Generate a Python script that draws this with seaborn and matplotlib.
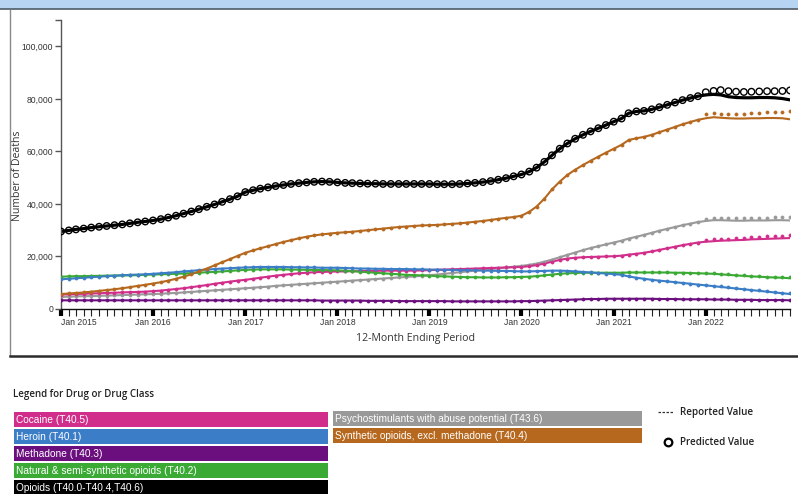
import matplotlib
matplotlib.use("Agg")
import matplotlib.pyplot as plt
import matplotlib.dates as mdates
from matplotlib.patches import Rectangle
from matplotlib.lines import Line2D
from matplotlib.ticker import StrMethodFormatter, FixedLocator
import pandas as pd
import seaborn as sns

# ---- data: 12-month ending counts, thousands of deaths, Jan 2015 .. Dec 2022 ----
periods = pd.date_range("2015-01-01", "2022-12-01", freq="MS")

cocaine_k = [
    5.5, 5.6, 5.7, 5.8, 5.9, 6.0, 6.1, 6.2, 6.3, 6.4, 6.5, 6.6,
    6.8, 7.0, 7.3, 7.6, 7.9, 8.3, 8.7, 9.1, 9.6, 10.0, 10.4, 10.8,
    11.1, 11.5, 11.9, 12.3, 12.7, 13.0, 13.3, 13.6, 13.8, 14.0, 14.1, 14.2,
    14.3, 14.3, 14.4, 14.4, 14.5, 14.5, 14.6, 14.6, 14.6, 14.6, 14.6, 14.7,
    14.8, 14.9, 15.0, 15.1, 15.2, 15.3, 15.4, 15.5, 15.6, 15.7, 15.8, 15.9,
    16.0, 16.3, 16.7, 17.3, 18.0, 18.7, 19.2, 19.5, 19.7, 19.8, 19.9, 20.0,
    20.1, 20.3, 20.7, 21.0, 21.4, 21.9, 22.5, 23.1, 23.7, 24.3, 24.8, 25.3,
    25.6, 25.8, 26.0, 26.1, 26.2, 26.3, 26.5, 26.6, 26.7, 26.8, 26.9, 27.0,
]
heroin_k = [
    11.3, 11.5, 11.7, 11.9, 12.1, 12.3, 12.5, 12.7, 12.8, 13.0, 13.1, 13.2,
    13.4, 13.6, 13.8, 14.0, 14.3, 14.5, 14.8, 15.0, 15.2, 15.4, 15.5, 15.7,
    15.8, 15.9, 16.0, 16.0, 16.0, 16.0, 15.9, 15.9, 15.8, 15.8, 15.7, 15.7,
    15.7, 15.6, 15.5, 15.4, 15.4, 15.3, 15.3, 15.2, 15.2, 15.2, 15.1, 15.1,
    15.0, 15.0, 14.9, 14.9, 14.8, 14.8, 14.7, 14.6, 14.6, 14.5, 14.5, 14.4,
    14.3, 14.3, 14.4, 14.5, 14.6, 14.6, 14.5, 14.3, 14.1, 13.9, 13.7, 13.5,
    13.3, 13.0, 12.4, 11.9, 11.5, 11.1, 10.8, 10.5, 10.2, 9.9, 9.6, 9.3,
    9.0, 8.7, 8.4, 8.1, 7.8, 7.5, 7.2, 6.9, 6.6, 6.3, 6.0, 5.7,
]
methadone_k = [
    3.3, 3.3, 3.3, 3.3, 3.3, 3.3, 3.3, 3.3, 3.3, 3.3, 3.3, 3.3,
    3.3, 3.3, 3.3, 3.3, 3.3, 3.3, 3.3, 3.3, 3.3, 3.3, 3.3, 3.3,
    3.3, 3.3, 3.3, 3.3, 3.3, 3.3, 3.3, 3.3, 3.3, 3.3, 3.2, 3.2,
    3.2, 3.2, 3.2, 3.2, 3.1, 3.1, 3.1, 3.1, 3.0, 3.0, 3.0, 3.0,
    3.0, 3.0, 3.0, 2.9, 2.9, 2.9, 2.9, 2.9, 2.9, 2.9, 2.9, 2.9,
    3.0, 3.0, 3.1, 3.2, 3.3, 3.4, 3.5, 3.6, 3.7, 3.8, 3.8, 3.9,
    3.9, 3.9, 3.9, 3.9, 3.9, 3.9, 3.8, 3.8, 3.8, 3.7, 3.7, 3.7,
    3.7, 3.6, 3.6, 3.6, 3.5, 3.5, 3.5, 3.4, 3.4, 3.4, 3.4, 3.3,
]
natural_k = [
    12.3, 12.4, 12.5, 12.5, 12.6, 12.6, 12.7, 12.7, 12.8, 12.8, 12.9, 13.0,
    13.1, 13.2, 13.3, 13.4, 13.5, 13.7, 13.8, 14.0, 14.1, 14.3, 14.5, 14.7,
    14.9, 15.0, 15.1, 15.1, 15.1, 15.1, 15.0, 15.0, 14.9, 14.9, 14.8, 14.8,
    14.7, 14.6, 14.4, 14.2, 14.0, 13.8, 13.6, 13.4, 13.2, 13.0, 12.9, 12.8,
    12.7, 12.5, 12.4, 12.3, 12.2, 12.1, 12.1, 12.0, 12.0, 12.0, 12.1, 12.1,
    12.2, 12.3, 12.5, 12.8, 13.1, 13.4, 13.6, 13.7, 13.8, 13.8, 13.8, 13.8,
    13.8, 13.8, 13.9, 13.9, 13.9, 13.9, 13.9, 13.9, 13.8, 13.8, 13.7, 13.6,
    13.5, 13.4, 13.2, 13.0, 12.8, 12.6, 12.4, 12.3, 12.1, 12.0, 11.9, 11.7,
]
opioids_k = [
    29.5, 29.9, 30.3, 30.6, 31.0, 31.3, 31.6, 31.9, 32.2, 32.6, 33.0, 33.3,
    33.7, 34.2, 34.8, 35.5, 36.3, 37.1, 38.0, 38.9, 39.8, 40.8, 41.8, 42.9,
    44.5, 45.2, 45.8, 46.3, 46.8, 47.2, 47.6, 47.9, 48.2, 48.4, 48.5, 48.4,
    48.2, 48.0, 47.9, 47.8, 47.7, 47.7, 47.6, 47.6, 47.6, 47.6, 47.6, 47.6,
    47.6, 47.5, 47.5, 47.5, 47.6, 47.8, 48.0, 48.3, 48.7, 49.2, 49.8, 50.5,
    51.2, 52.3, 53.8, 56.0, 58.5, 61.0, 63.0, 64.8, 66.3, 67.6, 68.8, 70.0,
    71.3, 72.5, 74.5, 75.2, 75.4, 76.0, 76.8, 77.7, 78.6, 79.5, 80.3, 81.0,
    81.5, 81.7, 81.5, 80.8, 80.5, 80.4, 80.4, 80.5, 80.5, 80.4, 80.1, 79.6,
]
psychostim_k = [
    4.6, 4.7, 4.8, 4.9, 4.9, 5.0, 5.1, 5.2, 5.3, 5.4, 5.5, 5.6,
    5.7, 5.8, 6.0, 6.1, 6.3, 6.5, 6.7, 6.9, 7.1, 7.3, 7.5, 7.7,
    7.9, 8.1, 8.3, 8.5, 8.8, 9.0, 9.2, 9.4, 9.6, 9.8, 10.0, 10.2,
    10.4, 10.6, 10.8, 11.0, 11.2, 11.4, 11.6, 11.8, 12.0, 12.2, 12.4, 12.6,
    12.9, 13.1, 13.4, 13.7, 14.0, 14.3, 14.6, 14.9, 15.2, 15.5, 15.8, 16.1,
    16.4, 16.8, 17.3, 18.0, 18.8, 19.7, 20.6, 21.5, 22.4, 23.2, 23.9, 24.6,
    25.3, 26.0, 26.8, 27.5, 28.2, 29.0, 29.8, 30.5, 31.2, 31.9, 32.5, 33.1,
    33.5, 33.8, 33.8, 33.7, 33.6, 33.6, 33.7, 33.7, 33.7, 33.8, 33.8, 33.7,
]
synthetic_k = [
    5.7, 5.9, 6.1, 6.3, 6.6, 6.9, 7.2, 7.5, 7.9, 8.3, 8.8, 9.2,
    9.7, 10.2, 10.8, 11.5, 12.3, 13.2, 14.3, 15.4, 16.6, 17.8, 19.0, 20.2,
    21.4, 22.3, 23.1, 23.9, 24.7, 25.5, 26.2, 26.9, 27.5, 28.0, 28.4, 28.7,
    29.0, 29.2, 29.4, 29.7, 30.0, 30.3, 30.6, 30.9, 31.2, 31.4, 31.6, 31.8,
    31.9, 32.0, 32.2, 32.4, 32.6, 32.9, 33.2, 33.5, 33.9, 34.3, 34.7, 35.0,
    35.5, 37.0, 39.0, 42.0, 45.5, 48.5, 51.0, 53.0, 54.8, 56.4, 58.0, 59.5,
    61.0, 62.5, 64.3, 65.0, 65.5, 66.3, 67.3, 68.3, 69.3, 70.3, 71.2, 72.0,
    72.6, 73.0, 72.8, 72.6, 72.5, 72.5, 72.6, 72.6, 72.7, 72.7, 72.6, 72.2,
]

# predicted values for 2022 (earlier months: predicted equals reported)
cocaine_pred_2022 = [26.2, 26.5, 26.7, 26.8, 27.0, 27.1, 27.3, 27.4, 27.6, 27.7, 27.9, 28.2]
heroin_pred_2022 = [9.2, 8.9, 8.6, 8.3, 8.0, 7.7, 7.4, 7.1, 6.8, 6.5, 6.2, 5.9]
methadone_pred_2022 = [3.8, 3.7, 3.7, 3.7, 3.6, 3.6, 3.6, 3.5, 3.5, 3.5, 3.5, 3.4]
natural_pred_2022 = [13.7, 13.6, 13.4, 13.2, 13.0, 12.8, 12.6, 12.5, 12.3, 12.2, 12.1, 12.0]
opioids_pred_2022 = [82.5, 83.0, 83.3, 82.9, 82.7, 82.6, 82.7, 82.8, 82.9, 82.9, 83.0, 83.2]
psychostim_pred_2022 = [34.4, 34.7, 34.7, 34.6, 34.6, 34.6, 34.7, 34.8, 34.8, 34.9, 35.0, 35.0]
synthetic_pred_2022 = [74.2, 74.6, 74.4, 74.2, 74.2, 74.3, 74.5, 74.6, 74.8, 75.0, 75.1, 75.3]

drug_labels = [
    "Cocaine (T40.5)",
    "Heroin (T40.1)",
    "Methadone (T40.3)",
    "Natural & semi-synthetic opioids (T40.2)",
    "Opioids (T40.0-T40.4,T40.6)",
    "Psychostimulants with abuse potential (T43.6)",
    "Synthetic opioids, excl. methadone (T40.4)",
]
drug_colors = ["#D12D8A", "#3B7DC6", "#6B0F7E", "#3AAA35", "#000000", "#999999", "#B5681E"]

reported = [cocaine_k, heroin_k, methadone_k, natural_k, opioids_k, psychostim_k, synthetic_k]
predicted_2022 = [cocaine_pred_2022, heroin_pred_2022, methadone_pred_2022, natural_pred_2022,
                  opioids_pred_2022, psychostim_pred_2022, synthetic_pred_2022]

y_ticks = [0, 20000, 40000, 60000, 80000, 100000]

# ---- long-format table ----
frames = []
for label, rep, pred_tail in zip(drug_labels, reported, predicted_2022):
    pred = rep[:-12] + pred_tail
    frames.append(pd.DataFrame({
        "period": periods,
        "drug": label,
        "reported": [v * 1000 for v in rep],
        "predicted": [v * 1000 for v in pred],
    }))
df = pd.concat(frames, ignore_index=True)

# ---- figure ----
W, H = 798, 494
fig = plt.figure(figsize=(W / 100, H / 100), dpi=100)
fig.patch.set_facecolor("white")


def fx(px):
    return px / W


def fy(py):
    return 1 - py / H


# header band and frame of the chart panel
fig.add_artist(Rectangle((0, fy(9)), 1, 9 / H, transform=fig.transFigure,
                         facecolor="#B7D5F3", edgecolor="none"))
fig.add_artist(Line2D([0, 1], [fy(9.5), fy(9.5)], transform=fig.transFigure,
                      color="#4F5B66", lw=1.2))
fig.add_artist(Line2D([fx(10), fx(10)], [fy(10), fy(355)], transform=fig.transFigure,
                      color="#8A8A8A", lw=1.0))
fig.add_artist(Line2D([fx(10), 1], [fy(355.5), fy(355.5)], transform=fig.transFigure,
                      color="#2B2B2B", lw=1.8))

ax = fig.add_axes([fx(61), fy(309), fx(790) - fx(61), (309 - 20) / H])
ax.set_facecolor("white")

line_order = [5, 0, 3, 1, 2, 6, 4]
for i in line_order:
    sub = df[df["drug"] == drug_labels[i]]
    is_total = drug_colors[i] == "#000000"
    sns.lineplot(data=sub, x="period", y="reported", color=drug_colors[i],
                 linewidth=2.3 if is_total else 1.5, ax=ax, legend=False, zorder=2)
    if is_total:
        sns.scatterplot(data=sub, x="period", y="predicted", ax=ax, marker="o", s=22,
                        facecolor="none", edgecolor="black", linewidth=1.0, zorder=3,
                        legend=False)
    else:
        sns.scatterplot(data=sub, x="period", y="predicted", ax=ax, marker="o", s=5,
                        color=drug_colors[i], edgecolor=drug_colors[i], linewidth=0.5,
                        zorder=3, legend=False)

ax.set_xlim(periods[0], periods[-1])
ax.set_ylim(0, 110000)

for side in ["top", "right"]:
    ax.spines[side].set_visible(False)
ax.spines["left"].set_color("#555555")
ax.spines["left"].set_linewidth(1.0)
ax.spines["bottom"].set_color("#111111")
ax.spines["bottom"].set_linewidth(1.0)

ax.yaxis.set_major_locator(FixedLocator(y_ticks))
ax.yaxis.set_major_formatter(StrMethodFormatter("{x:,.0f}"))
ax.yaxis.set_minor_locator(FixedLocator([110000]))
ax.tick_params(axis="y", which="major", length=4, width=1, color="#555555",
               labelsize=6.2, labelcolor="#333333", pad=1.5)
ax.tick_params(axis="y", which="minor", length=4, width=1, color="#555555")

ax.xaxis.set_major_locator(mdates.YearLocator())
ax.xaxis.set_minor_locator(mdates.MonthLocator())
ax.xaxis.set_major_formatter(mdates.DateFormatter("%b %Y"))
ax.tick_params(axis="x", which="major", length=5, width=3, color="black",
               labelsize=6.2, labelcolor="#333333", pad=1.5)
ax.tick_params(axis="x", which="minor", length=5, width=0.8, color="#222222")
for lbl in ax.get_xticklabels():
    lbl.set_fontfamily("Liberation Sans")
for lbl in ax.get_yticklabels():
    lbl.set_fontfamily("Liberation Sans")
first = ax.get_xticklabels()[0]
first.set_horizontalalignment("left")

ax.set_xlabel("")
ax.set_ylabel("Number of Deaths", fontsize=7.6, family="Open Sans", color="#333333")
ax.yaxis.set_label_coords((23 - 61) / (790 - 61), (309 - 176) / (309 - 20))
fig.text(fx(415), fy(338), "12-Month Ending Period", ha="center", va="center",
         fontsize=7.6, family="Open Sans", color="#333333")

# ---- legend block ----
fig.text(fx(13), fy(394), "Legend for Drug or Drug Class", ha="left", va="center",
         fontsize=7.0, family="Open Sans", fontweight="semibold", color="#222222")

bar_h = 14.5
col1 = (14, 328)
col2 = (333, 642)
rows1 = [412, 429, 446, 463, 480]
rows2 = [411, 428]
slots = [(col1, rows1[k]) for k in range(5)] + [(col2, rows2[k]) for k in range(2)]
for (cx, top), label, color in zip(slots, drug_labels, drug_colors):
    fig.add_artist(Rectangle((fx(cx[0]), fy(top + bar_h)), fx(cx[1] - cx[0]), bar_h / H,
                             transform=fig.transFigure, facecolor=color, edgecolor="none"))
    fig.text(fx(cx[0] + 2), fy(top + bar_h / 2 + 0.5), label, ha="left", va="center",
             fontsize=7.3, family="Liberation Sans", color="white")

fig.add_artist(Line2D([fx(658), fx(673)], [fy(412), fy(412)], transform=fig.transFigure,
                      color="#333333", lw=0.9, linestyle=(0, (2, 1.2))))
fig.text(fx(680), fy(412), "Reported Value", ha="left", va="center",
         fontsize=7.1, family="Open Sans", fontweight="semibold", color="#222222")
fig.add_artist(Line2D([fx(668)], [fy(442)], transform=fig.transFigure, marker="o",
                      markersize=5.5, markerfacecolor="none", markeredgecolor="black",
                      markeredgewidth=1.6, linestyle="none"))
fig.text(fx(680), fy(442), "Predicted Value", ha="left", va="center",
         fontsize=7.1, family="Open Sans", fontweight="semibold", color="#222222")

fig.savefig("out.png", dpi=100)
